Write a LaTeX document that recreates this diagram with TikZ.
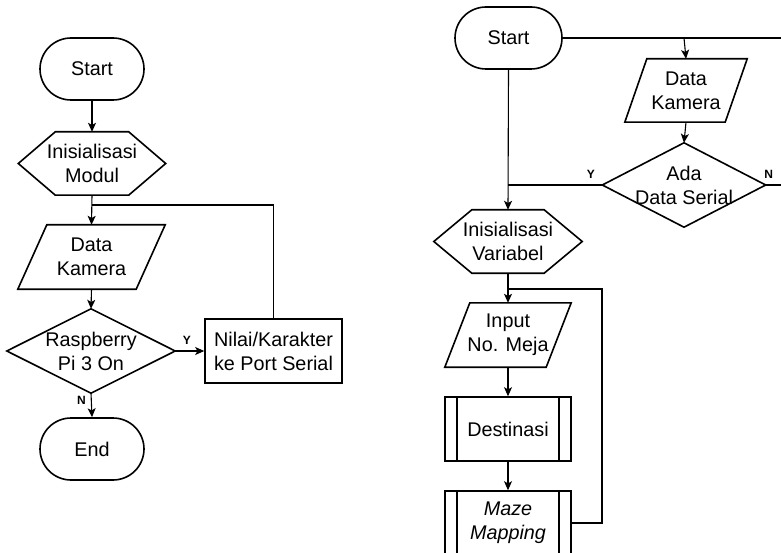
\documentclass[tikz,border=0pt]{standalone}
\usepackage{fontspec}
\setmainfont{Liberation Sans}
\usetikzlibrary{arrows.meta,calc}
\tikzset{
  txt/.style={inner sep=0pt, align=center, font=\fontsize{19.8}{24}\selectfont},
  shp/.style={line width=1.6pt, line join=miter},
  con/.style={line width=1.1pt},
  arr/.style={con, -{Stealth[length=9pt,width=8pt,inset=2.2pt]}},
  lbl/.style={font=\fontsize{12}{12}\selectfont\bfseries, inner sep=0pt},
  term/.style={txt, draw, shp, rounded corners=31pt},
}
\begin{document}
\begin{tikzpicture}[x=1pt,y=-1pt]
\useasboundingbox (0,0) rectangle (781,553);
\fill[white] (0,0) rectangle (781,553);

% ---------- left flowchart ----------
\node[term, minimum width=104pt, minimum height=62pt] (s1) at (92,69) {Start};
\node[txt, minimum width=147pt, minimum height=63pt] (h1) at (92,163.5) {Inisialisasi\\Modul};
\draw[shp] (h1.west) -- ([xshift=37pt]h1.north west) -- ([xshift=-37pt]h1.north east) -- (h1.east)
  -- ([xshift=-37pt]h1.south east) -- ([xshift=37pt]h1.south west) -- cycle;
\node[txt, minimum width=147pt, minimum height=64pt] (p1) at (91.5,257) {Data\\Kamera};
\draw[shp] ([xshift=29pt]p1.north west) -- (p1.north east) -- ([xshift=-29pt]p1.south east) -- (p1.south west) -- cycle;
\node[txt, minimum width=168pt, minimum height=84pt] (d1) at (91,351) {Raspberry\\Pi 3 On};
\draw[shp] (d1.north) -- (d1.east) -- (d1.south) -- (d1.west) -- cycle;
\node[txt, draw, shp, minimum width=137pt, minimum height=64pt] (b1) at (273.5,351) {Nilai/Karakter\\ke Port Serial};
\node[term, minimum width=104pt, minimum height=62pt] (e1) at (92,449) {End};

\coordinate (j1) at (92,205);
\draw[arr] (s1.south) -- (h1.north);
\draw[arr] (h1.south) -- (p1.north);
\draw[arr] (p1.south) -- (d1.north);
\draw[arr] (d1.east) -- (b1.west) node[lbl, pos=0.4, above=6pt] {Y};
\draw[arr] (d1.south) -- (e1.north) node[lbl, pos=0.3, left=5pt] {N};
\draw[con] (b1.north) |- (j1);

% ---------- right flowchart ----------
\node[term, minimum width=107pt, minimum height=62pt] (s2) at (508.5,38) {Start};
\node[txt, minimum width=122pt, minimum height=63pt] (p2) at (686,90.5) {Data\\Kamera};
\draw[shp] ([xshift=22pt]p2.north west) -- (p2.north east) -- ([xshift=-22pt]p2.south east) -- (p2.south west) -- cycle;
\node[txt, minimum width=163pt, minimum height=84pt] (d2) at (684,185) {Ada\\Data Serial};
\draw[shp] (d2.north) -- (d2.east) -- (d2.south) -- (d2.west) -- cycle;
\node[txt, minimum width=148pt, minimum height=63pt] (h2) at (508,241.5) {Inisialisasi\\Variabel};
\draw[shp] (h2.west) -- ([xshift=38pt]h2.north west) -- ([xshift=-38pt]h2.north east) -- (h2.east)
  -- ([xshift=-38pt]h2.south east) -- ([xshift=38pt]h2.south west) -- cycle;
\node[txt, minimum width=126pt, minimum height=64pt] (p3) at (508,335) {Input\\No. Meja};
\draw[shp] ([xshift=25pt]p3.north west) -- (p3.north east) -- ([xshift=-25pt]p3.south east) -- (p3.south west) -- cycle;
\node[txt, draw, shp, minimum width=126pt, minimum height=64pt] (b2) at (508,429) {Destinasi};
\draw[shp] ([xshift=13pt]b2.north west) -- ([xshift=13pt]b2.south west)
  ([xshift=-13pt]b2.north east) -- ([xshift=-13pt]b2.south east);
\node[txt, draw, shp, minimum width=126pt, minimum height=64pt] (b3) at (508,523) {\itshape Maze\\\itshape Mapping};
\draw[shp] ([xshift=13pt]b3.north west) -- ([xshift=13pt]b3.south west)
  ([xshift=-13pt]b3.north east) -- ([xshift=-13pt]b3.south east);

\coordinate (r1) at (781,38);
\coordinate (t1) at (684,38);
\coordinate (r2) at (781,185);
\coordinate (j2) at (508,185);
\coordinate (j3) at (508,289);
\coordinate (k3) at (602,289);

\draw[con] (s2.east) -- (r1);
\draw[arr] (t1) -- (p2.north);
\draw[arr] (p2.south) -- (d2.north);
\draw[con] (d2.west) -- (j2) node[lbl, pos=0.12, above=6pt] {Y};
\draw[con] (d2.east) -- (r2) node[lbl, pos=0.2, above=6pt] {N};
\draw[arr] (s2.south) -- (h2.north);
\draw[arr] (h2.south) -- (p3.north);
\draw[arr] (p3.south) -- (b2.north);
\draw[arr] (b2.south) -- (b3.north);
\draw[con] (b3.east) -| (k3) -- (j3);
\end{tikzpicture}
\end{document}
